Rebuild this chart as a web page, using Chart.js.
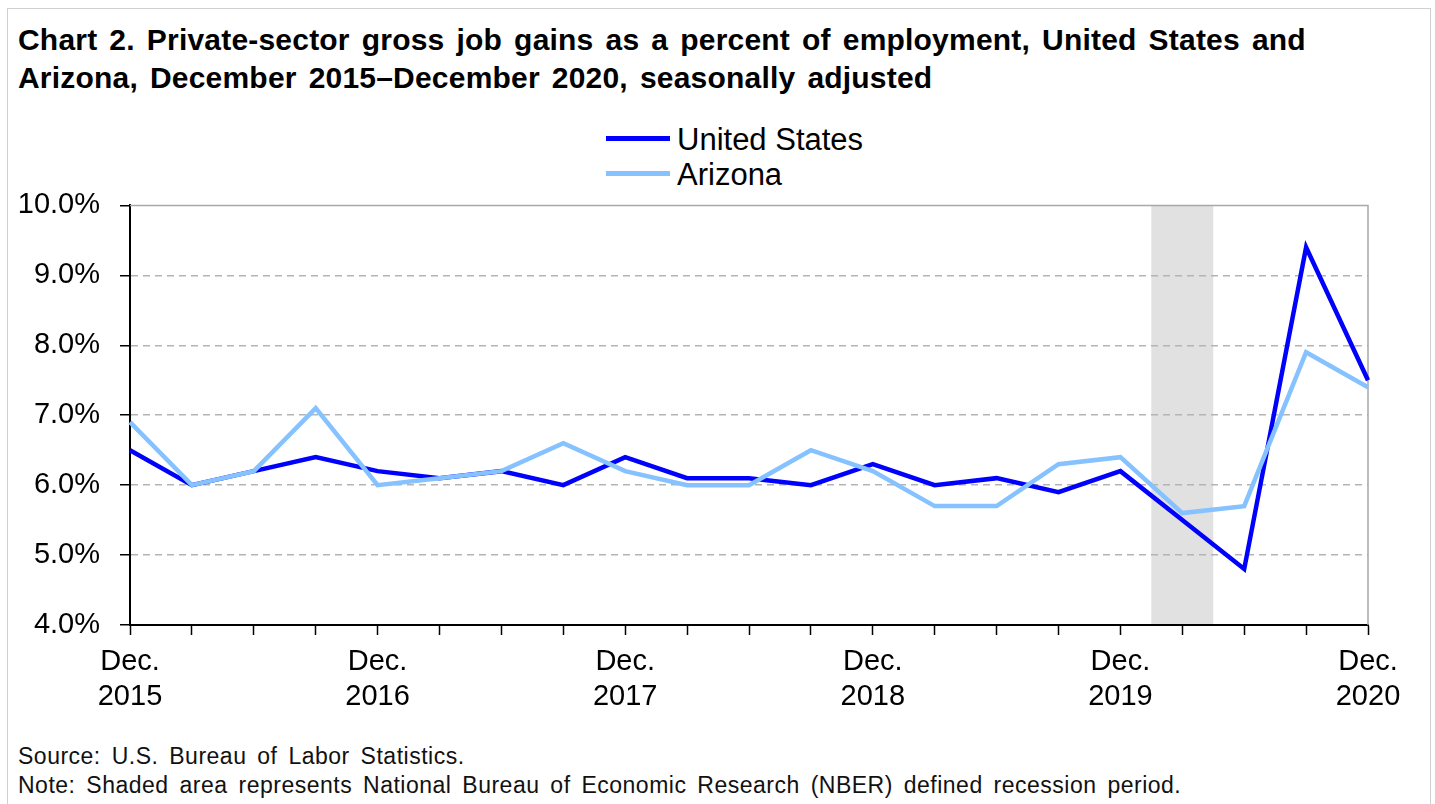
<!DOCTYPE html>
<html>
<head>
<meta charset="utf-8">
<script src="https://cdn.jsdelivr.net/npm/chart.js@4.4.1/dist/chart.umd.min.js"></script>
<style>
  body { margin: 0; background: #fff; }
  #wrap { position: relative; width: 1435px; height: 804px; overflow: hidden; background: #fff;
          font-family: Arial, "Liberation Sans", sans-serif; color: #000; }
  #frame { position: absolute; left: 7px; top: 8px; width: 1422px; height: 820px; border: 1px solid #d0d0d0; }
  #title { position: absolute; left: 18px; top: 21px; font-size: 30px; font-weight: bold; line-height: 38px;
           letter-spacing: 0.2px; word-spacing: 3.5px; white-space: nowrap; }
  .leg { position: absolute; left: 606px; height: 35px; font-size: 31px; line-height: 35px; white-space: nowrap; }
  .leg span { display: inline-block; width: 64px; height: 5px; vertical-align: middle; margin-right: 7px; position: relative; top: -3px; }
  #notes { position: absolute; left: 18px; top: 742px; font-size: 23px; line-height: 29px; color: #111;
           white-space: nowrap; letter-spacing: 0.5px; word-spacing: 4px; }
  #chartBox { position: absolute; left: 0; top: 168px; width: 1435px; height: 552px; }
</style>
</head>
<body>
<div id="wrap">
  <div id="frame"></div>
  <div id="title">Chart 2. Private-sector gross job gains as a percent of employment, United States and<br>Arizona, December 2015–December 2020, seasonally adjusted</div>
  <div class="leg" style="top:122px"><span style="background:#0000ff"></span>United States</div>
  <div class="leg" style="top:157px"><span style="background:#85c2ff"></span>Arizona</div>
  <div id="chartBox"><canvas id="chart"></canvas></div>
  <div id="notes">Source: U.S. Bureau of Labor Statistics.<br>Note: Shaded area represents National Bureau of Economic Research (NBER) defined recession period.</div>
</div>
<script>
// quarterly, Dec 2015 - Dec 2020
const quarters = ['Dec. 2015', 'Mar. 2016', 'Jun. 2016', 'Sep. 2016', 'Dec. 2016', 'Mar. 2017', 'Jun. 2017',
  'Sep. 2017', 'Dec. 2017', 'Mar. 2018', 'Jun. 2018', 'Sep. 2018', 'Dec. 2018', 'Mar. 2019', 'Jun. 2019',
  'Sep. 2019', 'Dec. 2019', 'Mar. 2020', 'Jun. 2020', 'Sep. 2020', 'Dec. 2020'];
const usValues = [6.5, 6.0, 6.2, 6.4, 6.2, 6.1, 6.2, 6.0, 6.4, 6.1, 6.1, 6.0, 6.3, 6.0, 6.1, 5.9, 6.2, 5.5, 4.8, 9.4, 7.5];
const azValues = [6.9, 6.0, 6.2, 7.1, 6.0, 6.1, 6.2, 6.6, 6.2, 6.0, 6.0, 6.5, 6.2, 5.7, 5.7, 6.3, 6.4, 5.6, 5.7, 7.9, 7.4];
// NBER recession quarter (index into quarters)
const recessionIndex = 17;
const yMin = 4, yMax = 10;

const recessionShade = {
  id: 'recessionShade',
  beforeDraw(chart) {
    const x = chart.scales.x, area = chart.chartArea, ctx = chart.ctx;
    const half = (x.getPixelForValue(1) - x.getPixelForValue(0)) / 2;
    const c = x.getPixelForValue(recessionIndex);
    ctx.save();
    ctx.fillStyle = '#e1e1e1';
    ctx.fillRect(c - half, area.top, half * 2, area.bottom - area.top);
    ctx.restore();
  },
  beforeDatasetsDraw(chart) {
    // light frame on top and right of plot area
    const area = chart.chartArea, ctx = chart.ctx;
    ctx.save();
    ctx.strokeStyle = '#a8a8a8';
    ctx.lineWidth = 1.5;
    ctx.beginPath();
    ctx.moveTo(area.left, area.top);
    ctx.lineTo(area.right, area.top);
    ctx.lineTo(area.right, area.bottom);
    ctx.stroke();
    ctx.restore();
  }
};

new Chart(document.getElementById('chart'), {
  type: 'line',
  data: {
    labels: quarters,
    datasets: [
      { label: 'United States', data: usValues, borderColor: '#0000ff', backgroundColor: '#0000ff',
        borderWidth: 4.5, pointRadius: 0, tension: 0, order: 1 },
      { label: 'Arizona', data: azValues, borderColor: '#85c2ff', backgroundColor: '#85c2ff',
        borderWidth: 4.5, pointRadius: 0, tension: 0, order: 0 }
    ]
  },
  options: {
    responsive: true,
    maintainAspectRatio: false,
    animation: false,
    layout: { padding: { top: 14, right: 67, left: 0, bottom: 0 } },
    plugins: {
      legend: { display: false },
      title: { display: false },
      tooltip: { enabled: false }
    },
    scales: {
      x: {
        offset: false,
        afterFit: scale => { scale.height = 95; },
        grid: { drawOnChartArea: false, drawTicks: true, tickLength: 10, tickColor: '#000', tickWidth: 1.5 },
        border: { color: '#000', width: 2 },
        ticks: {
          autoSkip: false, maxRotation: 0, minRotation: 0, padding: 10, color: '#000',
          font: { family: 'Arial, "Liberation Sans", sans-serif', size: 29, lineHeight: 1.2 },
          callback: function(value, index) {
            const lab = quarters[index];
            return lab.startsWith('Dec.') ? lab.split(' ') : '';
          }
        }
      },
      y: {
        min: yMin, max: yMax,
        afterFit: scale => { scale.width = 130; },
        grid: {
          color: ctx => (ctx.tick && (ctx.tick.value === yMin || ctx.tick.value === yMax)) ? 'rgba(0,0,0,0)' : '#b4b4b4',
          lineWidth: 1.5, drawTicks: true, tickLength: 10, tickColor: '#000', tickWidth: 1.5, tickBorderDash: []
        },
        border: { color: '#000', width: 2, dash: [7, 5] },
        ticks: {
          stepSize: 1, padding: 20, color: '#000',
          font: { family: 'Arial, "Liberation Sans", sans-serif', size: 29 },
          callback: v => v.toFixed(1) + '%'
        }
      }
    }
  },
  plugins: [recessionShade]
});
</script>
</body>
</html>
